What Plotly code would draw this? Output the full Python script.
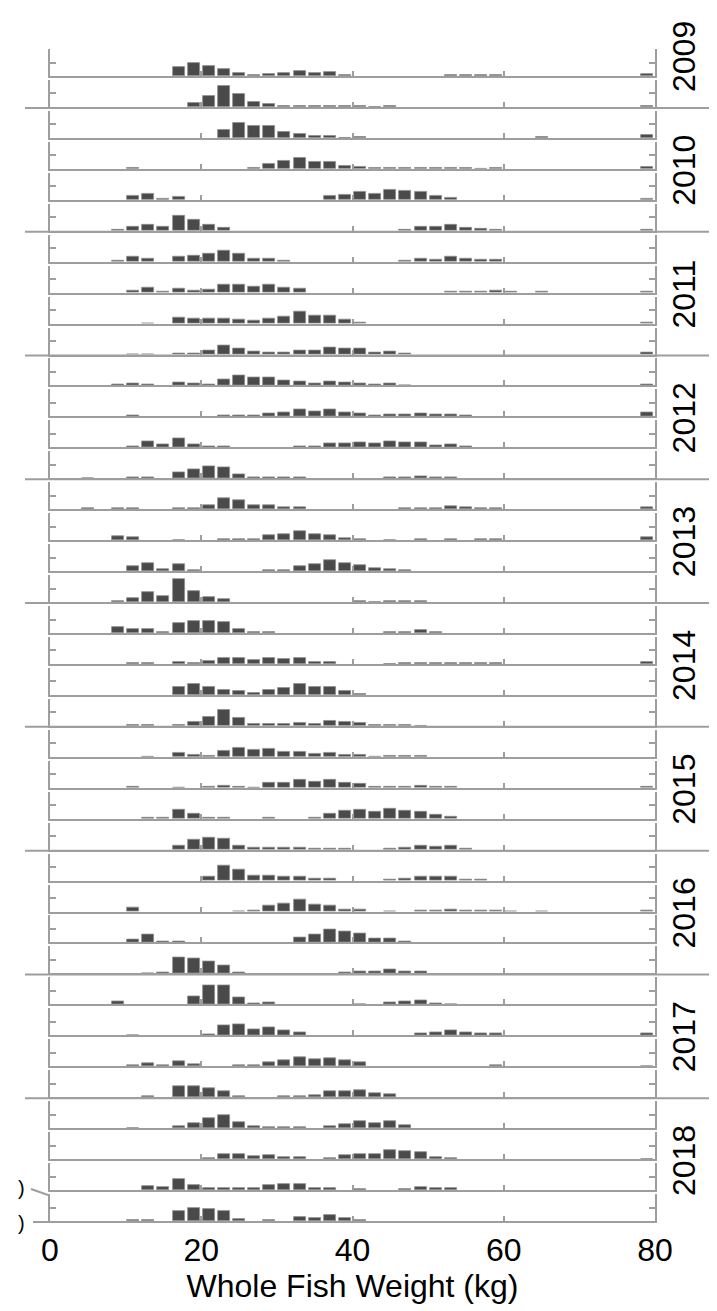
import plotly.graph_objects as go

# ---------------- data ----------------
years = ["2009", "2010", "2011", "2012", "2013", "2014", "2015", "2016", "2017", "2018"]
panels_per_year = [2, 4, 4, 4, 4, 4, 4, 4, 4, 4]
bin_centers = list(range(1, 80, 2))          # 2-kg bins, 0..80 kg
x_ticks = [0, 20, 40, 60, 80]

# relative frequencies (fraction of panel height), 40 bins each
w2009_1 = [0,0,0,0,0,0,0,0,.33,.47, .38,.26,.10,.04,.09,.10,.18,.11,.13,.05, 0,0,0,0,0,0,.03,.02,.02,.04, 0,0,0,0,0,0,0,0,0,.08]
w2009_2 = [0,0,0,0,0,0,0,0,0,.13, .40,.76,.47,.19,.12,.04,.03,.02,.05,.04, .03,.01,.02,0,0,0,0,0,0,0, 0,0,0,0,0,0,0,0,0,.04]
w2010_1 = [0,0,0,0,0,0,0,0,0,0, 0,.30,.56,.46,.46,.24,.15,.06,.07,.01, .02,0,0,0,0,0,0,0,0,0, 0,0,.02,0,0,0,0,0,0,.12]
w2010_2 = [0,0,0,0,0,.03,0,0,0,0, 0,0,0,.02,.19,.28,.42,.27,.27,.12, .08,.03,.05,.04,.04,.03,.05,.03,.01,.02, 0,0,0,0,0,0,0,0,0,.07]
w2010_3 = [0,0,0,0,0,.13,.22,.04,.12,0, 0,0,0,0,0,0,0,0,.13,.19, .28,.24,.38,.33,.30,.14,.08,0,0,0, 0,0,0,0,0,0,0,0,0,.02]
w2010_4 = [0,0,0,0,.02,.15,.24,.15,.56,.39, .21,.10,0,0,0,0,0,0,0,0, 0,0,0,.05,.15,.15,.21,.11,.07,.05, 0,0,0,0,0,0,0,0,0,.02]
w2011_1 = [0,0,0,0,.05,.18,.10,0,.20,.21, .29,.40,.28,.11,.11,.03,0,0,0,0, 0,0,0,.03,.10,.07,.18,.10,.07,.06, 0,0,0,0,0,0,0,0,0,0]
w2011_2 = [0,0,0,0,0,.09,.19,.02,.15,.08, .10,.28,.30,.23,.29,.18,.13,0,0,0, 0,0,0,0,0,0,.05,.03,.04,.08, .02,0,.02,0,0,0,0,0,0,.04]
w2011_3 = [0,0,0,0,0,0,.01,0,.24,.20, .17,.18,.13,.10,.20,.27,.43,.29,.30,.13, .03,0,0,0,0,0,0,0,0,0, 0,0,0,0,0,0,0,0,0,.03]
w2011_4 = [0,0,0,0,0,.01,.01,0,.03,.03, .15,.35,.24,.10,.09,.06,.13,.14,.26,.21, .21,.09,.10,.02,0,0,0,0,0,0, 0,0,0,0,0,0,0,0,0,.07]
w2012_1 = [0,0,0,0,.02,.06,.05,0,.10,.07, .05,.23,.36,.28,.30,.17,.15,.08,.13,.10, .09,.02,.06,.01,0,0,0,0,0,0, 0,0,0,0,0,0,0,0,0,.02]
w2012_2 = [0,0,0,0,0,.05,0,0,0,0, 0,.03,.02,.03,.10,.14,.25,.19,.25,.14, .12,.04,.09,.09,.12,.08,.08,.02,0,0, 0,0,0,0,0,0,0,0,0,.14]
w2012_3 = [0,0,0,0,0,.05,.22,.10,.34,.12, .04,.04,0,0,0,0,.02,.02,.14,.16, .20,.15,.22,.20,.20,.09,.10,.04,0,0, 0,0,0,0,0,0,0,0,0,0]
w2012_4 = [0,0,.01,0,0,.04,.04,0,.24,.35, .43,.42,.13,.02,.04,.02,.03,0,0,0, 0,0,.02,.04,.07,.03,.04,0,0,0, 0,0,0,0,0,0,0,0,0,0]
w2013_1 = [0,0,.03,0,.03,.03,0,0,.02,.02, .13,.42,.35,.15,.13,.08,.08,0,0,0, 0,0,0,.02,.05,.05,.11,.06,.03,.05, 0,0,0,0,0,0,0,0,0,.06]
w2013_2 = [0,0,0,0,.13,.11,0,0,.01,0, 0,.03,.04,.04,.17,.22,.32,.22,.19,.07, .03,0,.01,0,.02,0,.03,0,.02,.03, 0,0,0,0,0,0,0,0,0,.10]
w2013_3 = [0,0,0,0,0,.17,.28,.09,.25,.05, 0,0,0,0,.02,.04,.20,.27,.41,.31, .23,.10,.09,.03,0,0,0,0,0,0, 0,0,0,0,0,0,0,0,0,0]
w2013_4 = [0,0,0,0,.02,.14,.36,.24,.86,.40, .18,.10,0,0,0,0,0,0,0,0, .03,.01,.04,.04,.05,0,0,0,0,0, 0,0,0,0,0,0,0,0,0,0]
w2014_1 = [0,0,0,0,.22,.16,.14,.05,.38,.43, .43,.40,.15,.04,.03,0,0,0,0,0, 0,0,.04,.05,.10,.02,0,0,0,0, 0,0,0,0,0,0,0,0,0,0]
w2014_2 = [0,0,0,0,0,.05,.05,0,.06,.03, .10,.23,.23,.16,.23,.20,.23,.09,.06,0, 0,0,.01,.02,.05,.02,.05,.02,.02,.03, 0,0,0,0,0,0,0,0,0,.09]
w2014_3 = [0,0,0,0,0,0,0,0,.29,.41, .28,.19,.13,.09,.19,.25,.41,.29,.31,.14, .02,0,0,0,0,0,0,0,0,0, 0,0,0,0,0,0,0,0,0,0]
w2014_4 = [0,0,0,0,0,.04,.04,0,.05,.14, .35,.61,.29,.09,.09,.06,.11,.06,.18,.13, .11,.03,.05,.02,.01,0,0,0,0,0, 0,0,0,0,0,0,0,0,0,0]
w2015_1 = [0,0,0,0,0,0,.01,0,.14,.09, .04,.23,.34,.26,.31,.20,.18,.11,.13,.06, .06,.01,.03,.02,.02,0,0,0,0,0, 0,0,0,0,0,0,0,0,0,0]
w2015_2 = [0,0,0,0,0,.04,0,0,.01,0, .02,.07,.03,.01,.18,.18,.29,.23,.31,.20, .14,.02,.04,.02,.06,.02,.04,0,0,0, 0,0,0,0,0,0,0,0,0,.02]
w2015_3 = [0,0,0,0,0,0,.03,.02,.34,.19, .05,.03,0,0,.02,0,0,.03,.19,.28, .35,.26,.36,.29,.25,.13,.09,0,0,0, 0,0,0,0,0,0,0,0,0,0]
w2015_4 = [0,0,0,0,0,0,0,0,.13,.38, .46,.41,.15,.06,.07,.07,.06,.02,.02,.02, 0,0,.05,.08,.16,.11,.13,.04,0,0, 0,0,0,0,0,0,0,0,0,0]
w2016_1 = [0,0,0,0,0,0,0,0,0,0, .13,.54,.40,.18,.20,.14,.15,.07,.07,0, 0,0,.02,.07,.16,.13,.16,.05,.02,0, 0,0,0,0,0,0,0,0,0,0]
w2016_2 = [0,0,0,0,0,.14,0,0,0,0, 0,0,.01,.05,.22,.31,.45,.26,.21,.08, .08,0,.01,0,.05,.03,.07,.05,.05,.05, .01,0,.01,0,0,0,0,0,0,.04]
w2016_3 = [0,0,0,0,0,.12,.31,.05,.05,0, 0,0,0,0,0,0,.20,.28,.50,.41, .32,.15,.15,.05,0,0,0,0,0,0, 0,0,0,0,0,0,0,0,0,0]
w2016_4 = [0,0,0,0,0,0,.01,.04,.60,.55, .44,.28,.04,0,0,0,0,0,0,.03, .08,.06,.15,.09,.06,0,0,0,0,0, 0,0,0,0,0,0,0,0,0,0]
w2017_1 = [0,0,0,0,.11,0,0,0,0,.29, .71,.71,.25,.04,.06,0,0,0,0,0, .01,0,.06,.10,.16,.05,.01,0,0,0, 0,0,0,0,0,0,0,0,0,0]
w2017_2 = [0,0,0,0,0,.01,0,0,0,0, .04,.36,.40,.24,.31,.19,.10,0,0,0, 0,0,0,0,.08,.10,.19,.10,.07,.07, 0,0,0,0,0,0,0,0,0,.09]
w2017_3 = [0,0,0,0,0,.05,.11,.04,.20,.08, 0,0,.02,.03,.15,.24,.35,.25,.31,.23, .15,0,0,0,0,0,0,0,0,.03, 0,0,0,0,0,0,0,0,0,.01]
w2017_4 = [0,0,0,0,0,0,.02,0,.41,.41, .33,.24,.05,0,0,.02,.03,.06,.21,.21, .26,.14,.10,0,0,0,0,0,0,0, 0,0,0,0,0,0,0,0,0,0]
w2018_1 = [0,0,0,0,0,.01,0,0,.07,.19, .37,.50,.24,.06,.03,.03,.03,0,.06,.15, .26,.19,.25,.10,0,0,0,0,0,0, 0,0,0,0,0,0,0,0,0,0]
w2018_2 = [0,0,0,0,0,0,0,0,0,0, .03,.20,.20,.10,.13,.07,.07,0,.03,.14, .20,.19,.34,.30,.25,.08,.02,0,0,0, 0,0,0,0,0,0,0,0,0,.01]
w2018_3 = [0,0,0,0,0,0,.15,.10,.41,.19, .08,.07,.06,.06,.17,.24,.21,.09,.09,0, .03,0,0,.02,.11,.06,.07,0,0,0, 0,0,0,0,0,0,0,0,0,0]
w2018_4 = [0,0,0,0,0,.02,.02,0,.37,.47, .46,.36,.07,0,.02,0,.16,.10,.21,.12, .05,0,0,0,0,0,0,0,0,0, 0,0,0,0,0,0,0,0,0,0]

panels = [w2009_1, w2009_2,
          w2010_1, w2010_2, w2010_3, w2010_4,
          w2011_1, w2011_2, w2011_3, w2011_4,
          w2012_1, w2012_2, w2012_3, w2012_4,
          w2013_1, w2013_2, w2013_3, w2013_4,
          w2014_1, w2014_2, w2014_3, w2014_4,
          w2015_1, w2015_2, w2015_3, w2015_4,
          w2016_1, w2016_2, w2016_3, w2016_4,
          w2017_1, w2017_2, w2017_3, w2017_4,
          w2018_1, w2018_2, w2018_3, w2018_4]

# ---------------- layout geometry (pixels) ----------------
W, H = 717, 1311
ML, MR, MT, MB = 42, 70, 41, 98
plot_w = W - ML - MR
plot_h = H - MT - MB
n_pan = len(panels)
pan_h = 27.0
pitch = (plot_h - pan_h) / (n_pan - 1)

AX = "#9e9e9e"
FONT = "Liberation Sans, Arial, Helvetica, sans-serif"

def py(px):   # pixel y (from top of figure) -> paper
    return 1 - (px - MT) / plot_h

def pxx(px):  # pixel x -> paper
    return (px - ML) / plot_w

fig = go.Figure()
layout = dict(
    width=W, height=H,
    margin=dict(l=ML, r=MR, t=MT, b=MB),
    paper_bgcolor="white", plot_bgcolor="white",
    showlegend=False, bargap=0,
    font=dict(family=FONT, color="black"),
)

for i, vals in enumerate(panels):
    n = i + 1
    xs = [c for c, v in zip(bin_centers, vals) if v > 0]
    ys = [v for v in vals if v > 0]
    fig.add_trace(go.Bar(
        x=xs, y=ys, width=1.6,
        xaxis="x" if n == 1 else f"x{n}",
        yaxis="y" if n == 1 else f"y{n}",
        marker=dict(color="#4a4a4a", line=dict(color="#8f8f8f", width=0.8)),
        hoverinfo="skip",
    ))
    top = i * pitch
    bot = top + pan_h
    last = (i == n_pan - 1)
    layout[f"xaxis{n}" if n > 1 else "xaxis"] = dict(
        domain=[0, 1], anchor="y" if n == 1 else f"y{n}",
        range=[0, 80], showgrid=False, zeroline=False,
        showline=True, linecolor=AX, linewidth=2,
        ticks="inside", ticklen=5, tickwidth=2, tickcolor=AX,
        tickvals=x_ticks if last else [20, 40, 60],
        showticklabels=last,
        tickfont=dict(size=32, family=FONT, color="black"),
        ticklabelstandoff=0,
        title=dict(text="Whole Fish Weight (kg)" if last else "",
                   font=dict(size=32, family=FONT, color="black"), standoff=0),
    )
    layout[f"yaxis{n}" if n > 1 else "yaxis"] = dict(
        domain=[1 - bot / plot_h, 1 - top / plot_h],
        anchor="x" if n == 1 else f"x{n}",
        range=[0, 1], showgrid=False, zeroline=False,
        showline=True, linecolor=AX, linewidth=2, mirror="ticks",
        ticks="inside", ticklen=6, tickwidth=2, tickcolor=AX,
        tickvals=[0.5, 1.0], showticklabels=False,
    )

# year separators and labels
shapes = []
annotations = []
start = 0
for yr, cnt in zip(years, panels_per_year):
    end = start + cnt - 1
    top_px = MT + start * pitch
    bot_px = MT + end * pitch + pan_h
    if end < n_pan - 1:
        shapes.append(dict(type="line", xref="paper", yref="paper",
                           x0=pxx(17), x1=pxx(705), y0=py(bot_px + 1), y1=py(bot_px + 1),
                           line=dict(color=AX, width=2)))
    else:
        shapes.append(dict(type="line", xref="paper", yref="paper",
                           x0=pxx(25), x1=pxx(42), y0=py(bot_px + 1), y1=py(bot_px + 1),
                           line=dict(color=AX, width=2)))
    cy = (top_px + bot_px) / 2 if cnt == 4 else 49
    annotations.append(dict(text=yr, x=pxx(676), y=py(cy), xref="paper", yref="paper",
                            textangle=-90, showarrow=False, xanchor="center", yanchor="middle",
                            font=dict(size=32, family=FONT, color="black")))
    start = end + 1

# small clipped marks at lower left
shapes.append(dict(type="line", xref="paper", yref="paper",
                   x0=pxx(23), x1=pxx(40), y0=py(1181), y1=py(1187),
                   line=dict(color=AX, width=2)))
for yy in [1180, 1215]:
    annotations.append(dict(text=")", x=pxx(13), y=py(yy), xref="paper", yref="paper",
                            showarrow=False, xanchor="center", yanchor="middle",
                            font=dict(size=20, family=FONT, color="black")))

layout["shapes"] = shapes
layout["annotations"] = annotations
fig.update_layout(**layout)
fig.write_html("out.html")
